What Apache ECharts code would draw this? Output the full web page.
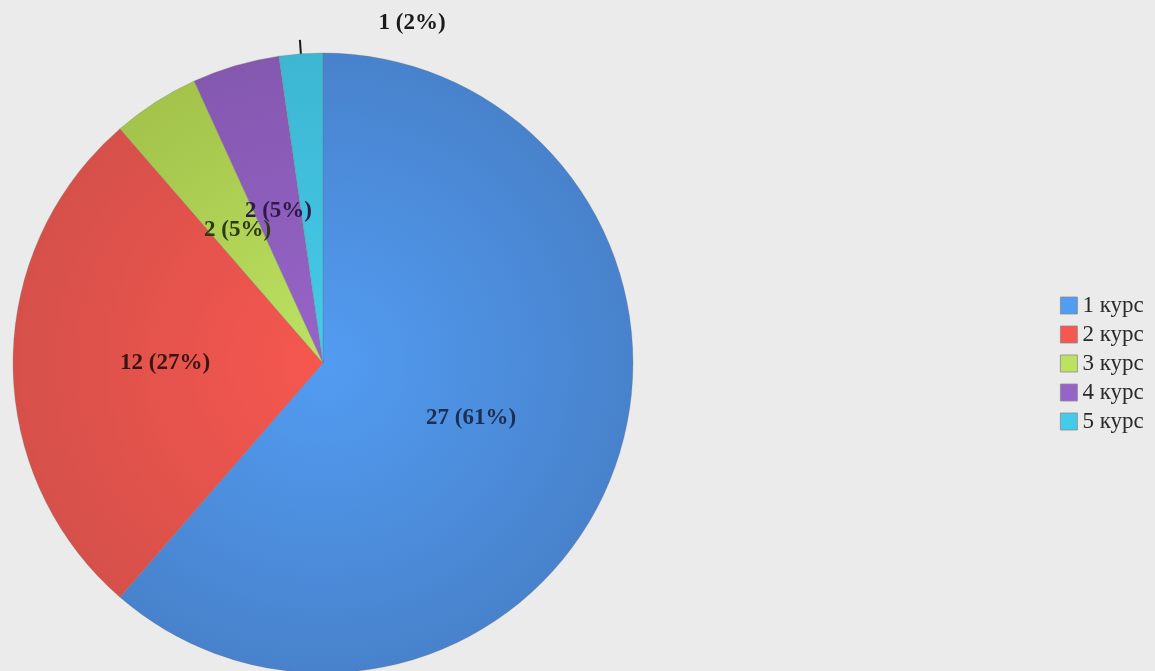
<!DOCTYPE html>
<html><head><meta charset="utf-8">
<script src="https://cdn.jsdelivr.net/npm/echarts@6/dist/echarts.min.js"></script>
<style>html,body{margin:0;padding:0;background:#ebebeb;}#c{width:1155px;height:671px;}</style>
</head><body><div id="c"></div>
<script>
const categories = ['1 курс', '2 курс', '3 курс', '4 курс', '5 курс'];
const values = [27, 12, 2, 2, 1];
const percents = [61, 27, 5, 5, 2];
const innerColors = ['#529cf2', '#f6574f', '#bde262', '#9664c8', '#44cbea'];
const outerColors = ['#4882cc', '#d6504a', '#a3c34a', '#8558b0', '#3db6d2'];
const labelColors = ['#1b2f55', '#3a1512', '#2c3a10', '#2e1a48', '#1a1a1a'];

const cx = 323, cy = 363, R = 310;
function grad(i){
  return {type:'radial', x:cx, y:cy, r:R, global:true,
    colorStops:[{offset:0,color:innerColors[i]},{offset:1,color:outerColors[i]}]};
}
const data = categories.map((name,i)=>({
  name, value: values[i],
  itemStyle:{color:grad(i)},
  label:{color:labelColors[i]}
}));
// helper series that only draws the short leader tick of the smallest slice
const tickData = categories.map((name,i)=>({
  name, value: values[i],
  label:{show: i === 4},
  labelLine:{show: i === 4}
}));
const chart = echarts.init(document.getElementById('c'));
chart.setOption({
  backgroundColor:'#ebebeb',
  animation:false,
  legend:{
    orient:'vertical', left:1055, top:289,
    itemWidth:17, itemHeight:17, itemGap:6,
    icon:'rect',
    data: categories.map((n,i)=>({name:n, itemStyle:{color:innerColors[i], borderColor:'#8a8a8a', borderWidth:0.8}})),
    textStyle:{fontFamily:'Liberation Serif', fontSize:23, color:'#2a2a2a'}
  },
  series:[{
    type:'pie',
    center:[cx,cy],
    radius:[0,R],
    startAngle:90,
    clockwise:true,
    itemStyle:{borderColor:'rgba(110,110,110,0.4)', borderWidth:0.7},
    label:{
      show:true, position:'inside',
      fontFamily:'Liberation Serif', fontWeight:'bold', fontSize:23,
      formatter: p => values[p.dataIndex] + ' (' + percents[p.dataIndex] + '%)'
    },
    labelLine:{show:false},
    labelLayout: function(p){
      if (p.dataIndex === 4) {
        return {x:412, y:23, align:'center', verticalAlign:'middle'};
      }
      return {};
    },
    emphasis:{disabled:true},
    data: data
  },{
    type:'pie',
    center:[cx,cy],
    radius:[0,R],
    startAngle:90,
    clockwise:true,
    silent:true,
    z:5,
    emphasis:{disabled:true},
    itemStyle:{color:'rgba(0,0,0,0)', borderWidth:0},
    label:{position:'outside', formatter:' ', fontSize:4},
    labelLine:{length:14, length2:0, smooth:false, lineStyle:{color:'#1a1a1a', width:2}},
    avoidLabelOverlap:false,
    data: tickData
  }]
});
</script></body></html>
